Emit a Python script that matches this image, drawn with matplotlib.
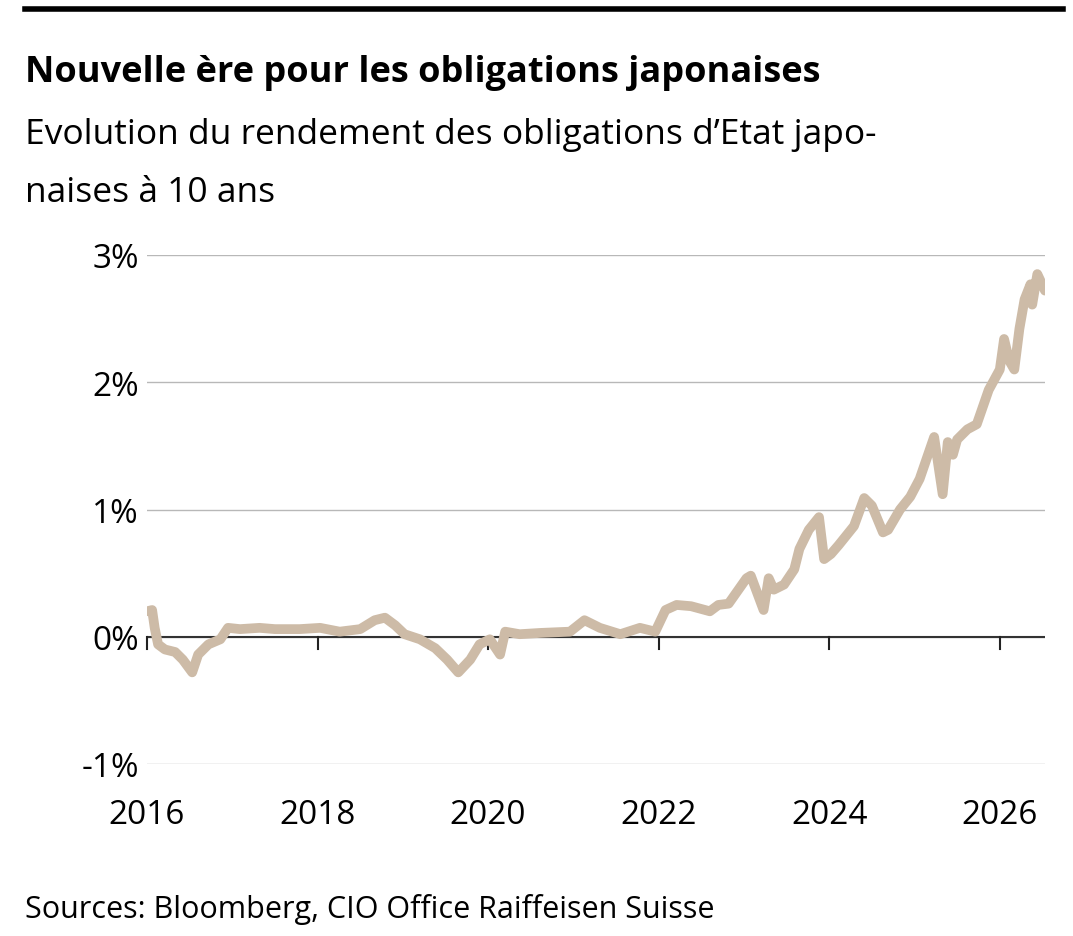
import matplotlib
matplotlib.use('Agg')
import matplotlib.pyplot as plt

# pixel-read points: decimal year, yield in %
years = [2016.0, 2016.06, 2016.09, 2016.13, 2016.21, 2016.33, 2016.42, 2016.53, 2016.6,
         2016.72, 2016.86, 2016.95, 2017.09, 2017.32, 2017.5, 2017.79, 2018.03, 2018.26,
         2018.5, 2018.67, 2018.79, 2018.91, 2019.02, 2019.2, 2019.38, 2019.52, 2019.65,
         2019.79, 2019.9, 2020.02, 2020.14, 2020.2, 2020.37, 2020.61, 2020.96, 2021.13,
         2021.31, 2021.55, 2021.78, 2021.96, 2022.08, 2022.21, 2022.38, 2022.6, 2022.7,
         2022.82, 2023.03, 2023.08, 2023.23, 2023.29, 2023.35, 2023.47, 2023.59, 2023.65,
         2023.76, 2023.88, 2023.94, 2024.02, 2024.11, 2024.29, 2024.41, 2024.5, 2024.63,
         2024.69, 2024.83, 2024.95, 2025.06, 2025.23, 2025.33, 2025.39, 2025.45, 2025.5,
         2025.62, 2025.73, 2025.87, 2026.0, 2026.05, 2026.11, 2026.17, 2026.23, 2026.29,
         2026.36, 2026.38, 2026.44, 2026.53]
yields = [0.20, 0.21, 0.07, -0.06, -0.10, -0.12, -0.18, -0.28, -0.14, -0.06, -0.02, 0.07,
          0.06, 0.07, 0.06, 0.06, 0.07, 0.04, 0.06, 0.13, 0.15, 0.09, 0.02, -0.02, -0.09,
          -0.18, -0.28, -0.18, -0.06, -0.02, -0.14, 0.04, 0.02, 0.03, 0.04, 0.13, 0.07,
          0.02, 0.07, 0.04, 0.21, 0.25, 0.24, 0.20, 0.25, 0.26, 0.46, 0.48, 0.21, 0.46,
          0.37, 0.41, 0.53, 0.69, 0.84, 0.94, 0.61, 0.65, 0.72, 0.87, 1.09, 1.03, 0.82,
          0.84, 1.00, 1.10, 1.24, 1.57, 1.12, 1.53, 1.43, 1.55, 1.63, 1.67, 1.94, 2.10,
          2.34, 2.17, 2.10, 2.42, 2.65, 2.77, 2.61, 2.85, 2.72]
yticks = [-1, 0, 1, 2, 3]
ytick_labels = ['-1%', '0%', '1%', '2%', '3%']
xticks = [2016, 2018, 2020, 2022, 2024, 2026]

plt.rcParams['font.family'] = ['Open Sans', 'DejaVu Sans']

fig = plt.figure(figsize=(10.73, 9.37), dpi=100)
ax = fig.add_axes([147/1073, 1 - 765/937, (1045-147)/1073, (765-256)/937])

ax.plot(years, yields, color='#cdbba7', lw=7, solid_joinstyle='round', solid_capstyle='round', zorder=3)
ax.set_xlim(2016, 2026.53)
ax.set_ylim(-1, 3)
ax.set_yticks(yticks)
ax.set_yticklabels(ytick_labels)
ax.grid(axis='y', color='#b8b8b8', lw=1)
ax.axhline(0, color='#333333', lw=1.5, zorder=2)
for s in ax.spines.values():
    s.set_visible(False)
ax.tick_params(axis='y', length=0, labelsize=24, pad=6)
ax.set_xticks([])
for x in xticks:
    ax.plot([x, x], [0, -0.1], color='#222222', lw=1.5, clip_on=False)
    ax.text(x, -1.4, str(x), ha='center', va='center', fontsize=24)

fig.add_artist(plt.Line2D([25/1073, 1063/1073], [1 - 10/937] * 2, color='black', lw=4))
fig.text(25/1073, 1 - 73/937, 'Nouvelle ère pour les obligations japonaises',
         fontsize=26, fontweight='bold', va='center')
fig.text(25/1073, 1 - 135/937, 'Evolution du rendement des obligations d’Etat japo-',
         fontsize=25.5, va='center')
fig.text(25/1073, 1 - 193/937, 'naises à 10 ans', fontsize=25.5, va='center')
fig.text(25/1073, 1 - 910/937, 'Sources: Bloomberg, CIO Office Raiffeisen Suisse',
         fontsize=22, va='center')

fig.savefig('out.png', dpi=100, facecolor='white')
